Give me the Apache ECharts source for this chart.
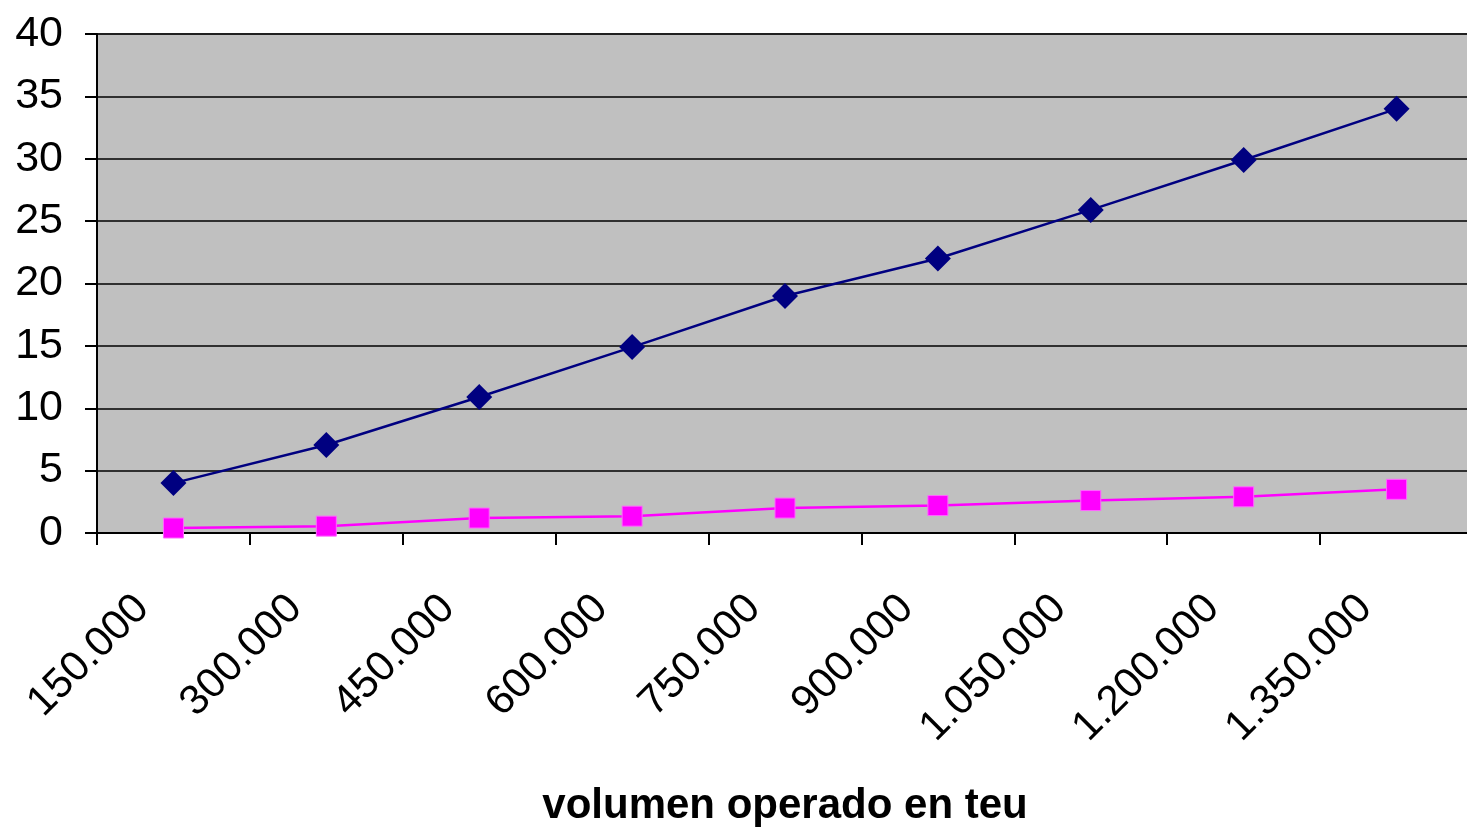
<!DOCTYPE html>
<html>
<head>
<meta charset="utf-8">
<script src="https://cdn.jsdelivr.net/npm/echarts@6/dist/echarts.min.js"></script>
<style>
html,body{margin:0;padding:0;background:#fff;}
#chart{width:1467px;height:828px;}
</style>
</head>
<body>
<div id="chart"></div>
<script>
const categories = ['150.000','300.000','450.000','600.000','750.000','900.000','1.050.000','1.200.000','1.350.000'];
const seriesA = [4, 7.05, 10.9, 14.9, 19, 22, 25.9, 29.9, 34];
const seriesB = [0.4, 0.55, 1.2, 1.35, 2.0, 2.2, 2.6, 2.9, 3.5];
const xAxisTitle = 'volumen operado en teu';

const chart = echarts.init(document.getElementById('chart'));
chart.setOption({
  animation: false,
  backgroundColor: '#ffffff',
  grid: {left: 97, top: 34, width: 1376, height: 499, show: true, backgroundColor: '#c0c0c0',
         borderWidth: 2, borderColor: '#808080', containLabel: false, outerBoundsMode: 'none'},
  xAxis: {
    type: 'category',
    data: categories,
    boundaryGap: true,
    name: xAxisTitle,
    nameLocation: 'middle',
    nameGap: 252,
    nameTextStyle: {fontFamily: 'Liberation Sans, Arial', fontSize: 42, fontWeight: 'bold', color: '#000'},
    axisLine: {lineStyle: {color: '#000', width: 2}},
    axisTick: {show: true, alignWithLabel: false, length: 12, lineStyle: {color: '#000', width: 2}},
    axisLabel: {rotate: 45, margin: 38, padding: [0, 44, 0, 0], fontFamily: 'Liberation Sans, Arial', fontSize: 42, color: '#000', interval: 0},
    splitLine: {show: false}
  },
  yAxis: {
    type: 'value',
    min: 0, max: 40, interval: 5,
    axisLine: {show: true, lineStyle: {color: '#000', width: 2}},
    axisTick: {show: true, length: 12, lineStyle: {color: '#000', width: 2}},
    axisLabel: {margin: 34, fontFamily: 'Liberation Sans, Arial', fontSize: 43, color: '#000'},
    splitLine: {show: true, lineStyle: {color: '#000', width: 1.5}}
  },
  series: [
    {
      type: 'line', data: seriesA, symbol: 'diamond', symbolSize: 26,
      lineStyle: {color: '#000080', width: 2.5},
      itemStyle: {color: '#000080'}
    },
    {
      type: 'line', data: seriesB, symbol: 'rect', symbolSize: 20,
      lineStyle: {color: '#ff00ff', width: 2.5},
      itemStyle: {color: '#ff00ff', borderColor: '#ff66ff', borderWidth: 1}
    }
  ]
});
</script>
</body>
</html>
